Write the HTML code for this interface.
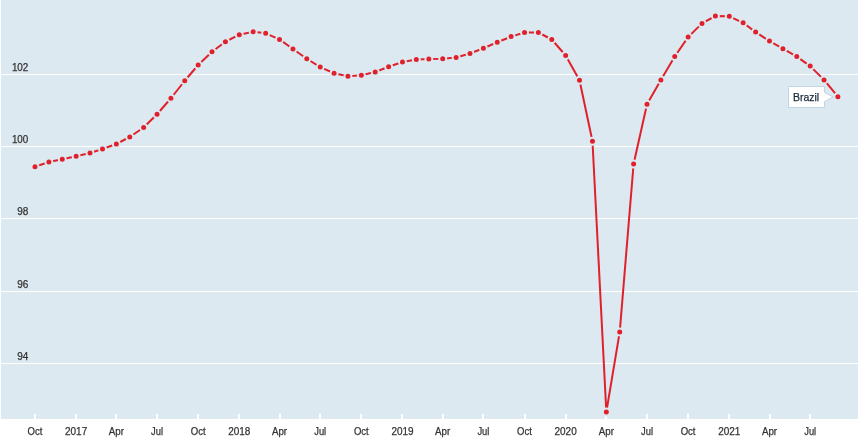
<!DOCTYPE html>
<html lang="en"><head><meta charset="utf-8"><title>Brazil</title>
<style>html,body{margin:0;padding:0;background:#fff;overflow:hidden}svg{display:block}text{font-family:"Liberation Sans",sans-serif;font-size:10.5px;fill:#333;stroke:#333;stroke-width:0.25px}</style></head><body>
<svg width="860" height="441" viewBox="0 0 860 441">
<rect x="0" y="0" width="860" height="441" fill="#fff"/>
<rect x="1" y="0" width="857" height="419" fill="#dde9f1"/>
<rect x="1" y="74" width="857" height="1" fill="#fff"/>
<rect x="1" y="146" width="857" height="1" fill="#fff"/>
<rect x="1" y="218" width="857" height="1" fill="#fff"/>
<rect x="1" y="291" width="857" height="1" fill="#fff"/>
<rect x="1" y="363" width="857" height="1" fill="#fff"/>
<rect x="34" y="414" width="2" height="5" fill="#fff"/>
<rect x="75" y="414" width="2" height="5" fill="#fff"/>
<rect x="115" y="414" width="2" height="5" fill="#fff"/>
<rect x="156" y="414" width="2" height="5" fill="#fff"/>
<rect x="197" y="414" width="2" height="5" fill="#fff"/>
<rect x="238" y="414" width="2" height="5" fill="#fff"/>
<rect x="279" y="414" width="2" height="5" fill="#fff"/>
<rect x="319" y="414" width="2" height="5" fill="#fff"/>
<rect x="360" y="414" width="2" height="5" fill="#fff"/>
<rect x="401" y="414" width="2" height="5" fill="#fff"/>
<rect x="442" y="414" width="2" height="5" fill="#fff"/>
<rect x="482" y="414" width="2" height="5" fill="#fff"/>
<rect x="524" y="414" width="2" height="5" fill="#fff"/>
<rect x="565" y="414" width="2" height="5" fill="#fff"/>
<rect x="605" y="414" width="2" height="5" fill="#fff"/>
<rect x="646" y="414" width="2" height="5" fill="#fff"/>
<rect x="687" y="414" width="2" height="5" fill="#fff"/>
<rect x="728" y="414" width="2" height="5" fill="#fff"/>
<rect x="769" y="414" width="2" height="5" fill="#fff"/>
<rect x="809" y="414" width="2" height="5" fill="#fff"/>
<text x="35.0" y="434.5" text-anchor="middle" textLength="14.8" lengthAdjust="spacingAndGlyphs">Oct</text>
<text x="76.1" y="434.5" text-anchor="middle" textLength="22.2" lengthAdjust="spacingAndGlyphs">2017</text>
<text x="116.4" y="434.5" text-anchor="middle" textLength="15.2" lengthAdjust="spacingAndGlyphs">Apr</text>
<text x="157.0" y="434.5" text-anchor="middle" textLength="12.0" lengthAdjust="spacingAndGlyphs">Jul</text>
<text x="198.2" y="434.5" text-anchor="middle" textLength="14.8" lengthAdjust="spacingAndGlyphs">Oct</text>
<text x="239.3" y="434.5" text-anchor="middle" textLength="22.2" lengthAdjust="spacingAndGlyphs">2018</text>
<text x="279.5" y="434.5" text-anchor="middle" textLength="15.2" lengthAdjust="spacingAndGlyphs">Apr</text>
<text x="320.2" y="434.5" text-anchor="middle" textLength="12.0" lengthAdjust="spacingAndGlyphs">Jul</text>
<text x="361.3" y="434.5" text-anchor="middle" textLength="14.8" lengthAdjust="spacingAndGlyphs">Oct</text>
<text x="402.5" y="434.5" text-anchor="middle" textLength="22.2" lengthAdjust="spacingAndGlyphs">2019</text>
<text x="442.7" y="434.5" text-anchor="middle" textLength="15.2" lengthAdjust="spacingAndGlyphs">Apr</text>
<text x="483.4" y="434.5" text-anchor="middle" textLength="12.0" lengthAdjust="spacingAndGlyphs">Jul</text>
<text x="524.5" y="434.5" text-anchor="middle" textLength="14.8" lengthAdjust="spacingAndGlyphs">Oct</text>
<text x="565.6" y="434.5" text-anchor="middle" textLength="22.2" lengthAdjust="spacingAndGlyphs">2020</text>
<text x="606.3" y="434.5" text-anchor="middle" textLength="15.2" lengthAdjust="spacingAndGlyphs">Apr</text>
<text x="647.0" y="434.5" text-anchor="middle" textLength="12.0" lengthAdjust="spacingAndGlyphs">Jul</text>
<text x="688.1" y="434.5" text-anchor="middle" textLength="14.8" lengthAdjust="spacingAndGlyphs">Oct</text>
<text x="729.3" y="434.5" text-anchor="middle" textLength="22.2" lengthAdjust="spacingAndGlyphs">2021</text>
<text x="769.5" y="434.5" text-anchor="middle" textLength="15.2" lengthAdjust="spacingAndGlyphs">Apr</text>
<text x="810.2" y="434.5" text-anchor="middle" textLength="12.0" lengthAdjust="spacingAndGlyphs">Jul</text>
<text x="28.3" y="71" text-anchor="end" textLength="16.4" lengthAdjust="spacingAndGlyphs" style="font-size:10px">102</text>
<text x="28.3" y="143" text-anchor="end" textLength="16.4" lengthAdjust="spacingAndGlyphs" style="font-size:10px">100</text>
<text x="28.3" y="215" text-anchor="end" textLength="11.1" lengthAdjust="spacingAndGlyphs" style="font-size:10px">98</text>
<text x="28.3" y="288" text-anchor="end" textLength="11.1" lengthAdjust="spacingAndGlyphs" style="font-size:10px">96</text>
<text x="28.3" y="360" text-anchor="end" textLength="11.1" lengthAdjust="spacingAndGlyphs" style="font-size:10px">94</text>
<path d="M35.0,166.75 L48.86,162 L62.27,159.25 L76.13,156.25 L89.99,153 L102.5,149 L116.36,144 L129.77,137 L143.63,127.5 L157.04,114.25 L170.9,98.25 L184.76,80.75 L198.17,65 L212.03,51.75 L225.44,41.75 L239.3,34.7 L253.16,31.7 L265.68,33.3 L279.54,39.4 L292.95,49 L306.81,58.75 L320.22,67.1 L334.08,73.25 L347.93,76.25 L361.35,75.25 L375.2,72 L388.62,66.75 L402.47,62 L416.33,59.5 L428.85,59 L442.71,58.75 L456.12,57.5 L469.98,53.5 L483.39,48.25 L497.25,42.25 L511.11,36.6 L524.52,32.5 L538.38,32.5 L551.79,39.5 L565.65,55.5 L579.51,80.3 L592.47,141.2 L606.33,412.0 L619.74,331.9 L633.6,164 L647.01,104.2 L660.87,79.9 L674.73,56.5 L688.14,37.1 L702.0,23.4 L715.41,16 L729.27,16.3 L743.13,22.8 L755.64,32.1 L769.5,41.1 L782.91,48.7 L796.77,56.6 L810.18,66.1 L824.04,79.9 L837.9,96.7" fill="none" stroke="#e0212b" stroke-width="2" stroke-linejoin="round" stroke-linecap="round"/>
<circle cx="35.0" cy="166.75" r="3.5" fill="#e0212b" stroke="#dde9f1" stroke-width="2"/>
<circle cx="48.86" cy="162" r="3.5" fill="#e0212b" stroke="#dde9f1" stroke-width="2"/>
<circle cx="62.27" cy="159.25" r="3.5" fill="#e0212b" stroke="#dde9f1" stroke-width="2"/>
<circle cx="76.13" cy="156.25" r="3.5" fill="#e0212b" stroke="#dde9f1" stroke-width="2"/>
<circle cx="89.99" cy="153" r="3.5" fill="#e0212b" stroke="#dde9f1" stroke-width="2"/>
<circle cx="102.5" cy="149" r="3.5" fill="#e0212b" stroke="#dde9f1" stroke-width="2"/>
<circle cx="116.36" cy="144" r="3.5" fill="#e0212b" stroke="#dde9f1" stroke-width="2"/>
<circle cx="129.77" cy="137" r="3.5" fill="#e0212b" stroke="#dde9f1" stroke-width="2"/>
<circle cx="143.63" cy="127.5" r="3.5" fill="#e0212b" stroke="#dde9f1" stroke-width="2"/>
<circle cx="157.04" cy="114.25" r="3.5" fill="#e0212b" stroke="#dde9f1" stroke-width="2"/>
<circle cx="170.9" cy="98.25" r="3.5" fill="#e0212b" stroke="#dde9f1" stroke-width="2"/>
<circle cx="184.76" cy="80.75" r="3.5" fill="#e0212b" stroke="#dde9f1" stroke-width="2"/>
<circle cx="198.17" cy="65" r="3.5" fill="#e0212b" stroke="#dde9f1" stroke-width="2"/>
<circle cx="212.03" cy="51.75" r="3.5" fill="#e0212b" stroke="#dde9f1" stroke-width="2"/>
<circle cx="225.44" cy="41.75" r="3.5" fill="#e0212b" stroke="#dde9f1" stroke-width="2"/>
<circle cx="239.3" cy="34.7" r="3.5" fill="#e0212b" stroke="#dde9f1" stroke-width="2"/>
<circle cx="253.16" cy="31.7" r="3.5" fill="#e0212b" stroke="#dde9f1" stroke-width="2"/>
<circle cx="265.68" cy="33.3" r="3.5" fill="#e0212b" stroke="#dde9f1" stroke-width="2"/>
<circle cx="279.54" cy="39.4" r="3.5" fill="#e0212b" stroke="#dde9f1" stroke-width="2"/>
<circle cx="292.95" cy="49" r="3.5" fill="#e0212b" stroke="#dde9f1" stroke-width="2"/>
<circle cx="306.81" cy="58.75" r="3.5" fill="#e0212b" stroke="#dde9f1" stroke-width="2"/>
<circle cx="320.22" cy="67.1" r="3.5" fill="#e0212b" stroke="#dde9f1" stroke-width="2"/>
<circle cx="334.08" cy="73.25" r="3.5" fill="#e0212b" stroke="#dde9f1" stroke-width="2"/>
<circle cx="347.93" cy="76.25" r="3.5" fill="#e0212b" stroke="#dde9f1" stroke-width="2"/>
<circle cx="361.35" cy="75.25" r="3.5" fill="#e0212b" stroke="#dde9f1" stroke-width="2"/>
<circle cx="375.2" cy="72" r="3.5" fill="#e0212b" stroke="#dde9f1" stroke-width="2"/>
<circle cx="388.62" cy="66.75" r="3.5" fill="#e0212b" stroke="#dde9f1" stroke-width="2"/>
<circle cx="402.47" cy="62" r="3.5" fill="#e0212b" stroke="#dde9f1" stroke-width="2"/>
<circle cx="416.33" cy="59.5" r="3.5" fill="#e0212b" stroke="#dde9f1" stroke-width="2"/>
<circle cx="428.85" cy="59" r="3.5" fill="#e0212b" stroke="#dde9f1" stroke-width="2"/>
<circle cx="442.71" cy="58.75" r="3.5" fill="#e0212b" stroke="#dde9f1" stroke-width="2"/>
<circle cx="456.12" cy="57.5" r="3.5" fill="#e0212b" stroke="#dde9f1" stroke-width="2"/>
<circle cx="469.98" cy="53.5" r="3.5" fill="#e0212b" stroke="#dde9f1" stroke-width="2"/>
<circle cx="483.39" cy="48.25" r="3.5" fill="#e0212b" stroke="#dde9f1" stroke-width="2"/>
<circle cx="497.25" cy="42.25" r="3.5" fill="#e0212b" stroke="#dde9f1" stroke-width="2"/>
<circle cx="511.11" cy="36.6" r="3.5" fill="#e0212b" stroke="#dde9f1" stroke-width="2"/>
<circle cx="524.52" cy="32.5" r="3.5" fill="#e0212b" stroke="#dde9f1" stroke-width="2"/>
<circle cx="538.38" cy="32.5" r="3.5" fill="#e0212b" stroke="#dde9f1" stroke-width="2"/>
<circle cx="551.79" cy="39.5" r="3.5" fill="#e0212b" stroke="#dde9f1" stroke-width="2"/>
<circle cx="565.65" cy="55.5" r="3.5" fill="#e0212b" stroke="#dde9f1" stroke-width="2"/>
<circle cx="579.51" cy="80.3" r="3.5" fill="#e0212b" stroke="#dde9f1" stroke-width="2"/>
<circle cx="592.47" cy="141.2" r="3.5" fill="#e0212b" stroke="#dde9f1" stroke-width="2"/>
<circle cx="606.33" cy="412.0" r="3.5" fill="#e0212b" stroke="#dde9f1" stroke-width="2"/>
<circle cx="619.74" cy="331.9" r="3.5" fill="#e0212b" stroke="#dde9f1" stroke-width="2"/>
<circle cx="633.6" cy="164" r="3.5" fill="#e0212b" stroke="#dde9f1" stroke-width="2"/>
<circle cx="647.01" cy="104.2" r="3.5" fill="#e0212b" stroke="#dde9f1" stroke-width="2"/>
<circle cx="660.87" cy="79.9" r="3.5" fill="#e0212b" stroke="#dde9f1" stroke-width="2"/>
<circle cx="674.73" cy="56.5" r="3.5" fill="#e0212b" stroke="#dde9f1" stroke-width="2"/>
<circle cx="688.14" cy="37.1" r="3.5" fill="#e0212b" stroke="#dde9f1" stroke-width="2"/>
<circle cx="702.0" cy="23.4" r="3.5" fill="#e0212b" stroke="#dde9f1" stroke-width="2"/>
<circle cx="715.41" cy="16" r="3.5" fill="#e0212b" stroke="#dde9f1" stroke-width="2"/>
<circle cx="729.27" cy="16.3" r="3.5" fill="#e0212b" stroke="#dde9f1" stroke-width="2"/>
<circle cx="743.13" cy="22.8" r="3.5" fill="#e0212b" stroke="#dde9f1" stroke-width="2"/>
<circle cx="755.64" cy="32.1" r="3.5" fill="#e0212b" stroke="#dde9f1" stroke-width="2"/>
<circle cx="769.5" cy="41.1" r="3.5" fill="#e0212b" stroke="#dde9f1" stroke-width="2"/>
<circle cx="782.91" cy="48.7" r="3.5" fill="#e0212b" stroke="#dde9f1" stroke-width="2"/>
<circle cx="796.77" cy="56.6" r="3.5" fill="#e0212b" stroke="#dde9f1" stroke-width="2"/>
<circle cx="810.18" cy="66.1" r="3.5" fill="#e0212b" stroke="#dde9f1" stroke-width="2"/>
<circle cx="824.04" cy="79.9" r="3.5" fill="#e0212b" stroke="#dde9f1" stroke-width="2"/>
<circle cx="837.9" cy="96.7" r="3.5" fill="#e0212b" stroke="#dde9f1" stroke-width="2"/>
<path d="M788.5,86.5 H824.5 V92.5 L833.3,97 L824.5,101.5 V107.5 H788.5 Z" fill="#fff" stroke="#c2d5e4" stroke-width="1"/>
<text x="793" y="100.7" textLength="26.2" lengthAdjust="spacingAndGlyphs" style="font-size:11px;fill:#1c2b39;stroke:#1c2b39">Brazil</text>
<circle cx="837.9" cy="96.7" r="3.5" fill="#e0212b" stroke="#dde9f1" stroke-width="2"/>
</svg></body></html>
